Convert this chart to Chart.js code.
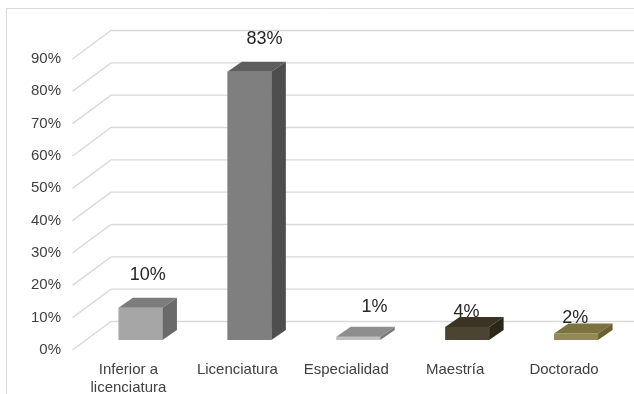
<!DOCTYPE html>
<html lang="es">
<head>
<meta charset="utf-8">
<title>Nivel de estudios</title>
<script src="https://cdn.jsdelivr.net/npm/chart.js@4.4.1/dist/chart.umd.min.js"></script>
<style>
  html, body { margin: 0; padding: 0; background: #ffffff; }
  #wrap { width: 634px; height: 394px; }
</style>
</head>
<body>
<div id="wrap"><canvas id="chart" width="634" height="394"></canvas></div>
<script>
// Nivel máximo de estudios (porcentaje)
const categories = [["Inferior a", "licenciatura"], "Licenciatura", "Especialidad", "Maestría", "Doctorado"];
const values = [10, 83, 1, 4, 2];
const tickValues = [0, 10, 20, 30, 40, 50, 60, 70, 80, 90];

// Face colours for each column: front, top, side
const frontColors = ["#a6a6a6", "#7f7f7f", "#bfbfbf", "#4a4430", "#938953"];
const topColors   = ["#7c7c7c", "#5e5e5e", "#8e8e8e", "#3a3424", "#7b7240"];
const sideColors  = ["#6a6a6a", "#4e4e4e", "#7a7a7a", "#2b2718", "#69612f"];

// Small nudges for the value labels (px)
const labelNudgeX = [0, 8, 9, -8, -8];
const labelNudgeY = [0, 0, 3, 18, 17];

// Perspective of the 3D box and of the walls
const BAR_DEPTH = { dx: 14.5, dy: -10 };
const FRONT_PLANE = { dx: -13.5, dy: 10 };
const BACK_WALL = { dx: 25, dy: -18.5 };
const GRID_COLOR = "#d9d9d9";
const FONT = "'Liberation Sans', Arial, sans-serif";

const wallsPlugin = {
  id: "walls",
  beforeDraw(chart) {
    const ctx = chart.ctx;
    ctx.save();
    ctx.fillStyle = "#ffffff";
    ctx.fillRect(0, 0, chart.width, chart.height);
    // outer frame
    ctx.strokeStyle = GRID_COLOR;
    ctx.lineWidth = 1;
    ctx.beginPath();
    ctx.moveTo(6.5, chart.height);
    ctx.lineTo(6.5, 8.5);
    ctx.lineTo(chart.width, 8.5);
    ctx.stroke();
    ctx.restore();
  },
  beforeDatasetsDraw(chart) {
    const ctx = chart.ctx;
    const y = chart.scales.y;
    const left = chart.chartArea.left;
    ctx.save();
    ctx.strokeStyle = GRID_COLOR;
    ctx.lineWidth = 1.4;
    tickValues.forEach(v => {
      const py = y.getPixelForValue(v);
      const fx = left + FRONT_PLANE.dx, fy = py + FRONT_PLANE.dy;
      const bx = left + BACK_WALL.dx, by = py + BACK_WALL.dy;
      ctx.beginPath();
      ctx.moveTo(fx, fy);
      ctx.lineTo(bx, by);
      ctx.lineTo(chart.width, by);
      ctx.stroke();
    });
    ctx.restore();
  },
  afterDatasetsDraw(chart) {
    const ctx = chart.ctx;
    const meta = chart.getDatasetMeta(0);
    const { dx, dy } = BAR_DEPTH;
    ctx.save();
    meta.data.forEach((bar, i) => {
      const p = bar.getProps(["x", "y", "base", "width"], true);
      const l = p.x - p.width / 2, r = p.x + p.width / 2;
      const t = p.y, b = p.base;
      // top face
      ctx.fillStyle = topColors[i];
      ctx.beginPath();
      ctx.moveTo(l, t);
      ctx.lineTo(l + dx, t + dy);
      ctx.lineTo(r + dx, t + dy);
      ctx.lineTo(r, t);
      ctx.closePath();
      ctx.fill();
      // side face
      ctx.fillStyle = sideColors[i];
      ctx.beginPath();
      ctx.moveTo(r, t);
      ctx.lineTo(r + dx, t + dy);
      ctx.lineTo(r + dx, b + dy);
      ctx.lineTo(r, b);
      ctx.closePath();
      ctx.fill();
    });
    // value labels
    ctx.fillStyle = "#262626";
    ctx.font = "18px " + FONT;
    ctx.textAlign = "center";
    ctx.textBaseline = "middle";
    meta.data.forEach((bar, i) => {
      const p = bar.getProps(["x", "y"], true);
      const lx = p.x + dx / 2 + labelNudgeX[i];
      const ly = p.y + dy / 2 - 28 + labelNudgeY[i];
      ctx.fillText(values[i] + "%", lx, ly);
    });
    ctx.restore();
  }
};

new Chart(document.getElementById("chart"), {
  type: "bar",
  data: {
    labels: categories,
    datasets: [{
      data: values,
      backgroundColor: frontColors,
      borderWidth: 0,
      categoryPercentage: 1,
      barPercentage: 0.404
    }]
  },
  options: {
    responsive: false,
    animation: false,
    devicePixelRatio: 1,
    layout: { padding: { top: 49, right: 3.5, left: 0, bottom: 0 } },
    plugins: { legend: { display: false }, tooltip: { enabled: false } },
    scales: {
      x: {
        offset: true,
        grid: { display: false, drawTicks: false },
        border: { display: false },
        ticks: {
          color: "#404040",
          font: { family: FONT, size: 15, lineHeight: 1.25 },
          padding: 20,
          labelOffset: -12,
          maxRotation: 0,
          autoSkip: false
        },
        afterFit(scale) { scale.height = 54; }
      },
      y: {
        min: 0,
        max: 90,
        grid: { display: false, drawTicks: false },
        border: { display: false },
        ticks: {
          stepSize: 10,
          color: "#404040",
          font: { family: FONT, size: 15 },
          padding: 25,
          labelOffset: 10,
          callback: v => v + "%"
        },
        afterFit(scale) { scale.width = 86; }
      }
    }
  },
  plugins: [wallsPlugin]
});
</script>
</body>
</html>
